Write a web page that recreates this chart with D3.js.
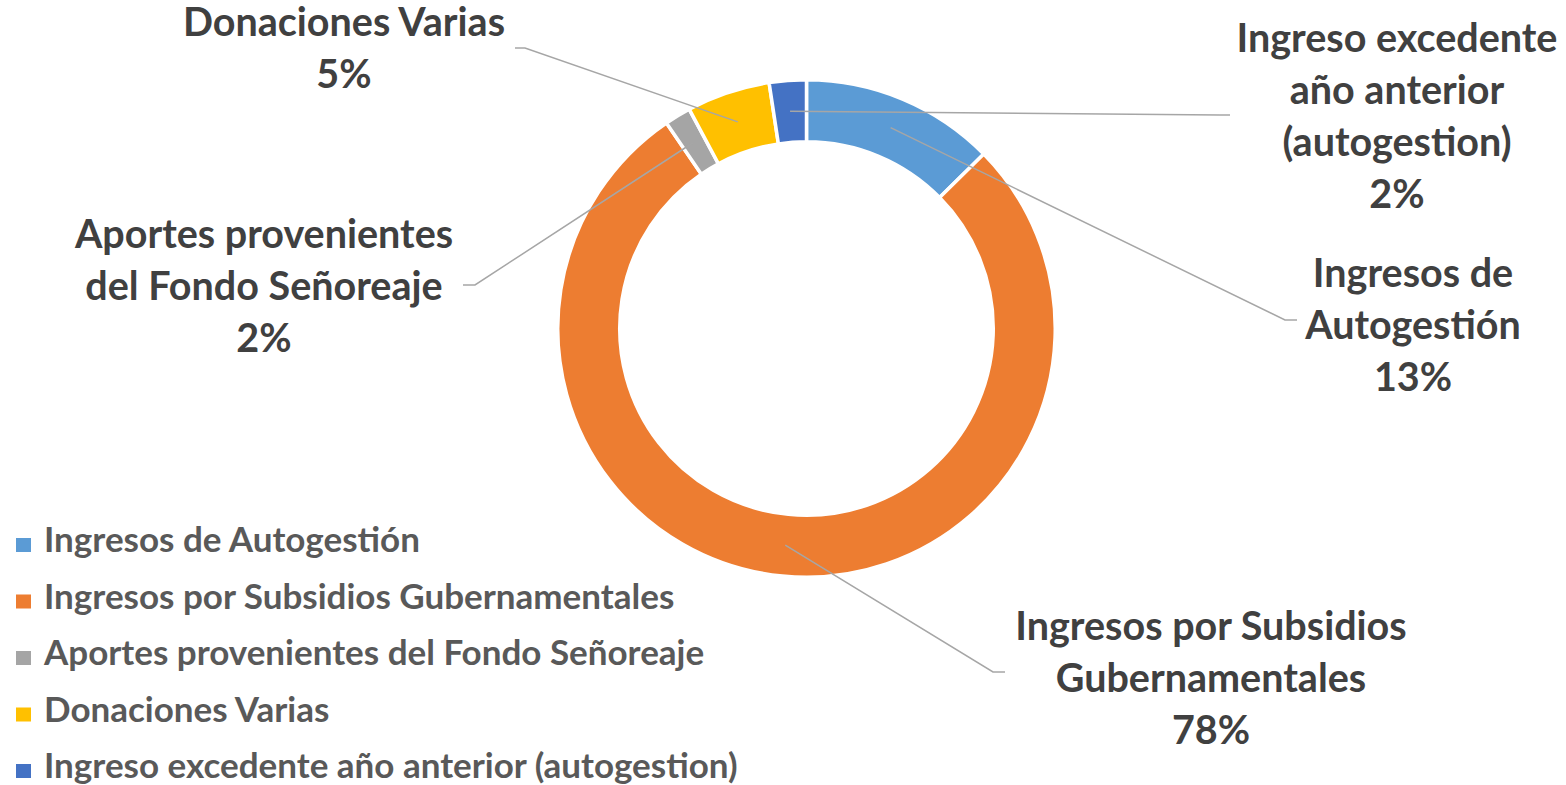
<!DOCTYPE html>
<html>
<head>
<meta charset="utf-8">
<script src="https://cdn.jsdelivr.net/npm/d3@7"></script>
<style>
  html, body { margin: 0; padding: 0; background: #fff; }
  svg { display: block; font-family: Lato, "Open Sans", sans-serif; font-weight: bold; }
</style>
</head>
<body>
<div id="chart"></div>
<script>
// Data
const categories = [
    "Ingresos de Autogestión",
    "Ingresos por Subsidios Gubernamentales",
    "Aportes provenientes del Fondo Señoreaje",
    "Donaciones Varias",
    "Ingreso excedente año anterior (autogestion)"
];
const values = [12.6, 77.7, 1.7, 5.4, 2.4];
const colors = ["#5B9BD5", "#ED7D31", "#A5A5A5", "#FFC000", "#4472C4"];

// how each data label is broken into lines
const labelLines = [
    ["Ingresos de", "Autogestión"],
    ["Ingresos por Subsidios", "Gubernamentales"],
    ["Aportes provenientes", "del Fondo Señoreaje"],
    ["Donaciones Varias"],
    ["Ingreso excedente", "año anterior", "(autogestion)"]
];

// Layout
const width = 1566;
const height = 785;
const cx = 806.5, cy = 328.5;
const outerR = 247, innerR = 188.5;
const sliceBorder = 3.5;
const lineHeight = 52;

// label block centre x, first baseline y, elbow of leader and its end
const labelPos = [
    { x: 1413, y: 287, elbow: [1285, 320], end: [1297, 320] },
    { x: 1211, y: 640, elbow: [993, 672], end: [1005, 672] },
    { x: 264, y: 248, elbow: [475, 285], end: [463, 285] },
    { x: 344, y: 36, elbow: [525, 48], end: [515, 48] },
    { x: 1397, y: 52, elbow: [1220, 115], end: [1230, 115] }
];

const total = d3.sum(values);
const pct = d3.format(".0%");

const svg = d3.select("#chart")
    .append("svg")
    .attr("width", width)
    .attr("height", height);

const pie = d3.pie().sort(null).value((d) => d);
const arcs = pie(values);

const arc = d3.arc()
    .innerRadius(innerR - sliceBorder / 2)
    .outerRadius(outerR + sliceBorder / 2);

const centroidArc = d3.arc().innerRadius(innerR).outerRadius(outerR);

const donut = svg.append("g").attr("transform", `translate(${cx},${cy})`);

donut.selectAll("path")
    .data(arcs)
    .join("path")
    .attr("d", arc)
    .attr("fill", (d, i) => colors[i])
    .attr("stroke", "#fff")
    .attr("stroke-width", sliceBorder);

// leader lines from slice centroid to label
svg.append("g")
    .selectAll("polyline")
    .data(arcs)
    .join("polyline")
    .attr("points", (d, i) => {
        const [x, y] = centroidArc.centroid(d);
        const p = labelPos[i];
        return [[x + cx, y + cy], p.elbow, p.end].map((q) => q.join(",")).join(" ");
    })
    .attr("fill", "none")
    .attr("stroke", "#A6A6A6")
    .attr("stroke-width", 1.5);

// data labels
const labels = svg.append("g")
    .selectAll("text")
    .data(arcs)
    .join("text")
    .attr("text-anchor", "middle")
    .attr("font-size", 39.5)
    .attr("fill", "#404040");

labels.each(function (d, i) {
    const p = labelPos[i];
    const lines = labelLines[i].concat([pct(d.value / total)]);
    d3.select(this)
        .selectAll("tspan")
        .data(lines)
        .join("tspan")
        .attr("x", p.x)
        .attr("y", (t, j) => p.y + j * lineHeight)
        .text((t) => t);
});

// legend
const legend = svg.append("g")
    .selectAll("g")
    .data(categories)
    .join("g")
    .attr("transform", (d, i) => `translate(16, ${552 + i * 56.5})`);

legend.append("rect")
    .attr("x", 0)
    .attr("y", -14)
    .attr("width", 15)
    .attr("height", 14)
    .attr("fill", (d, i) => colors[i]);

legend.append("text")
    .attr("x", 28)
    .attr("y", 0)
    .attr("font-size", 35)
    .attr("fill", "#595959")
    .text((d) => d);
</script>
</body>
</html>
